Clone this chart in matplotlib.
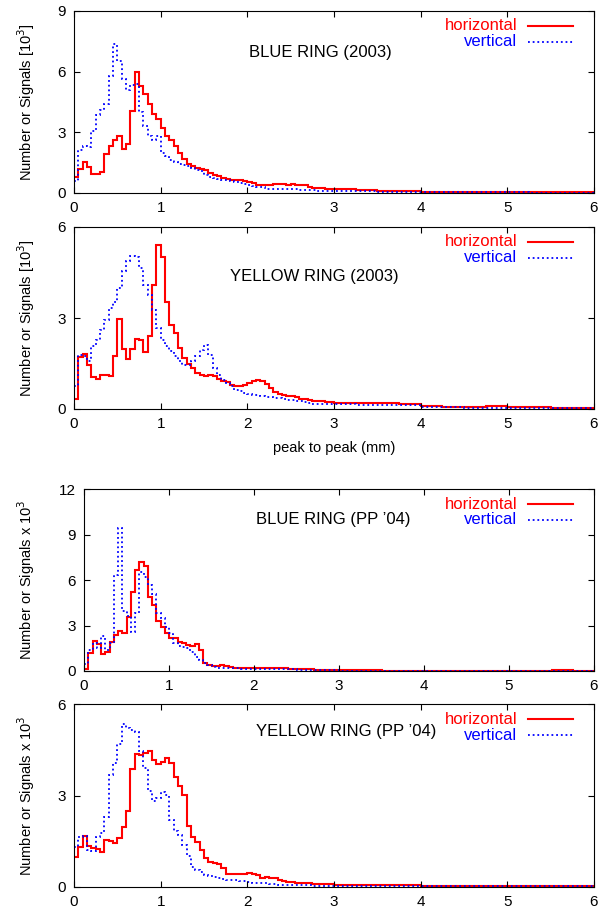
import numpy as np
import matplotlib
matplotlib.use("Agg")
import matplotlib.pyplot as plt

plt.rcParams['font.family'] = ['Liberation Sans', 'DejaVu Sans']

# bin edges: 0.05 mm bins up to 3 mm, coarser bins in the flat tail
edges = np.concatenate([np.linspace(0, 3, 61)[:-1], np.linspace(3, 6, 13)])

# values in units of 10^3 signals
blue03_h = [0.79, 1.2, 1.52, 1.28, 0.96, 0.96, 1.05, 1.93, 2.3, 2.64,
            2.82, 2.19, 2.4, 4.04, 5.96, 5.3, 4.88, 4.4, 3.89, 3.67,
            3.2, 2.83, 2.6, 2.3, 1.98, 1.68, 1.45, 1.32, 1.24, 1.2,
            1.12, 0.99, 0.9, 0.82, 0.74, 0.69, 0.66, 0.64, 0.62, 0.6,
            0.54, 0.49, 0.42, 0.4, 0.4, 0.42, 0.43, 0.43, 0.43, 0.42,
            0.43, 0.42, 0.41, 0.4, 0.28, 0.27, 0.24, 0.23, 0.22, 0.2,
            0.18, 0.13, 0.09, 0.08, 0.07, 0.07, 0.05, 0.05, 0.04, 0.03, 0.03, 0.03]
blue03_v = [0.58, 2.14, 2.3, 2.27, 3.08, 3.87, 4.12, 4.4, 5.8, 7.36,
            6.54, 5.65, 5.1, 5.34, 5.39, 4.0, 3.3, 2.8, 2.64, 2.8,
            1.98, 1.81, 1.65, 1.52, 1.45, 1.4, 1.35, 1.24, 1.15, 1.07,
            0.9, 0.79, 0.74, 0.69, 0.66, 0.63, 0.58, 0.55, 0.49, 0.44,
            0.4, 0.34, 0.31, 0.3, 0.22, 0.2, 0.2, 0.2, 0.19, 0.2,
            0.2, 0.19, 0.16, 0.15, 0.15, 0.14, 0.12, 0.12, 0.11, 0.11,
            0.1, 0.09, 0.06, 0.04, 0.04, 0.03, 0.03, 0.03, 0.03, 0.02, 0.02, 0.02]

yellow03_h = [0.33, 1.71, 1.81, 1.44, 1.04, 1.0, 1.11, 1.13, 1.08, 1.74,
              2.97, 1.99, 1.65, 1.98, 2.31, 2.29, 1.87, 2.42, 4.08, 5.42,
              5.01, 3.53, 2.78, 2.51, 2.01, 1.68, 1.49, 1.35, 1.19, 1.11,
              1.1, 1.13, 1.09, 0.99, 0.93, 0.88, 0.8, 0.75, 0.75, 0.8,
              0.86, 0.91, 0.95, 0.93, 0.83, 0.7, 0.57, 0.5, 0.46, 0.44,
              0.42, 0.38, 0.33, 0.33, 0.3, 0.28, 0.26, 0.25, 0.24, 0.24,
              0.21, 0.19, 0.21, 0.16, 0.11, 0.08, 0.08, 0.1, 0.08, 0.05, 0.03, 0.03]
yellow03_v = [0.77, 1.77, 1.74, 1.57, 2.07, 2.29, 2.62, 2.95, 3.33, 3.53,
              3.99, 4.54, 4.89, 5.03, 5.01, 4.65, 4.1, 3.77, 3.27, 2.67,
              2.29, 2.07, 1.9, 1.74, 1.57, 1.46, 1.46, 1.57, 1.74, 1.96,
              2.12, 1.79, 1.35, 1.13, 0.97, 0.86, 0.75, 0.64, 0.58, 0.53,
              0.5, 0.47, 0.45, 0.42, 0.4, 0.38, 0.36, 0.35, 0.33, 0.31,
              0.3, 0.28, 0.26, 0.24, 0.2, 0.18, 0.17, 0.16, 0.16, 0.16,
              0.16, 0.14, 0.13, 0.12, 0.08, 0.07, 0.04, 0.04, 0.03, 0.03, 0.03, 0.03]

blue04_h = [0.13, 1.2, 2.0, 1.78, 1.12, 1.27, 1.93, 2.35, 2.64, 2.48,
            3.54, 5.23, 6.66, 7.2, 6.92, 4.9, 4.35, 3.3, 2.92, 2.53,
            2.15, 2.15, 1.89, 1.82, 1.7, 1.67, 1.76, 1.38, 0.55, 0.4,
            0.33, 0.35, 0.37, 0.33, 0.29, 0.22, 0.2, 0.2, 0.2, 0.19,
            0.18, 0.18, 0.18, 0.18, 0.18, 0.18, 0.17, 0.17, 0.16, 0.15,
            0.15, 0.15, 0.14, 0.12, 0.08, 0.07, 0.07, 0.06, 0.06, 0.05,
            0.04, 0.04, 0.03, 0.03, 0.03, 0.03, 0.03, 0.03, 0.03, 0.03, 0.04, 0.03]
blue04_v = [0.44, 1.38, 1.82, 1.49, 2.33, 1.38, 1.82, 6.33, 9.45, 3.96,
            3.63, 2.59, 3.8, 6.55, 6.22, 5.67, 5.05, 3.8, 3.47, 2.92,
            2.48, 1.82, 1.67, 1.6, 1.49, 1.23, 0.95, 0.73, 0.55, 0.4,
            0.29, 0.22, 0.2, 0.2, 0.19, 0.18, 0.17, 0.16, 0.15, 0.13,
            0.12, 0.12, 0.11, 0.11, 0.11, 0.1, 0.1, 0.1, 0.1, 0.1,
            0.09, 0.09, 0.09, 0.08, 0.06, 0.05, 0.05, 0.04, 0.04, 0.04,
            0.03, 0.03, 0.03, 0.03, 0.03, 0.03, 0.03, 0.03, 0.03, 0.03, 0.03, 0.03]

yellow04_h = [0.99, 1.32, 1.67, 1.34, 1.27, 1.23, 1.16, 1.54, 1.51, 1.45,
              1.62, 1.98, 2.48, 3.88, 4.37, 4.33, 4.38, 4.46, 4.16, 4.02,
              4.1, 4.22, 4.07, 3.61, 3.3, 3.03, 2.0, 1.65, 1.49, 1.21,
              0.94, 0.83, 0.79, 0.77, 0.61, 0.44, 0.41, 0.42, 0.44, 0.44,
              0.46, 0.44, 0.39, 0.31, 0.33, 0.31, 0.28, 0.22, 0.2, 0.18,
              0.16, 0.14, 0.13, 0.13, 0.12, 0.11, 0.1, 0.1, 0.1, 0.09,
              0.08, 0.07, 0.06, 0.05, 0.04, 0.03, 0.02, 0.02, 0.02, 0.02, 0.02, 0.02]
yellow04_v = [1.32, 1.65, 1.67, 1.21, 1.18, 1.65, 1.76, 2.31, 3.66, 4.05,
              4.68, 5.34, 5.2, 5.14, 5.07, 4.46, 3.91, 3.14, 2.81, 2.92,
              3.11, 3.03, 2.2, 1.82, 1.71, 1.38, 1.01, 0.66, 0.55, 0.5,
              0.39, 0.35, 0.33, 0.3, 0.25, 0.22, 0.22, 0.22, 0.21, 0.2,
              0.18, 0.13, 0.13, 0.12, 0.12, 0.11, 0.1, 0.08, 0.08, 0.07,
              0.06, 0.06, 0.05, 0.05, 0.05, 0.04, 0.04, 0.04, 0.03, 0.03,
              0.03, 0.02, 0.02, 0.02, 0.02, 0.02, 0.02, 0.02, 0.02, 0.02, 0.02, 0.02]

titles = ["BLUE RING (2003)", "YELLOW RING (2003)",
          "BLUE RING (PP \u201904)", "YELLOW RING (PP \u201904)"]
ylabels = ["Number or Signals [10$^3$]", "Number or Signals [10$^3$]",
           "Number or Signals x 10$^3$", "Number or Signals x 10$^3$"]
yticks = [[0, 3, 6, 9], [0, 3, 6], [0, 3, 6, 9, 12], [0, 3, 6]]
series = [(blue03_h, blue03_v), (yellow03_h, yellow03_v),
          (blue04_h, blue04_v), (yellow04_h, yellow04_v)]

W, H = 605, 910
# axes boxes in pixels: left, top, right, bottom
boxes = [(74, 11, 594, 193), (74, 227, 594, 409),
         (84, 489, 594, 671), (74, 704, 594, 887)]
title_pos = [(2.84, 0.77), (2.77, 0.73), (2.93, 0.83), (3.14, 0.85)]

fig = plt.figure(figsize=(W / 100, H / 100), dpi=100)

for i in range(4):
    l, t, r, b = boxes[i]
    ax = fig.add_axes([l / W, 1 - b / H, (r - l) / W, (b - t) / H])
    h, v = series[i]
    ax.stairs(h, edges, baseline=None, color='#ff0000', lw=1.5)
    ax.stairs(v, edges, baseline=None, color='#0000ff', lw=1.3,
              linestyle=(0, (1, 1.6)))
    ax.set_xlim(0, 6)
    ax.set_ylim(yticks[i][0], yticks[i][-1])
    ax.set_xticks(range(7))
    ax.set_yticks(yticks[i])
    ax.tick_params(direction='in', top=True, right=True, length=4,
                   width=0.8, labelsize=11, pad=6)
    for s in ax.spines.values():
        s.set_linewidth(0.8)
    ax.set_ylabel(ylabels[i], fontsize=10.5)
    ax.yaxis.set_label_coords((37 - l) / (r - l), 0.5)
    ax.text(title_pos[i][0], title_pos[i][1], titles[i],
            transform=ax.get_xaxis_transform(), ha='center', va='center',
            fontsize=12)

    # gnuplot style key: right-aligned text followed by a sample line
    wpx = r - l
    hpx = b - t
    xt = (517 - l) / wpx
    x0, x1 = (528 - l) / wpx, (573 - l) / wpx
    yh = 1 - 15 / hpx
    yv = 1 - 31 / hpx
    ax.text(xt, yh, "horizontal", color='#ff0000', transform=ax.transAxes,
            ha='right', va='center', fontsize=12)
    ax.text(xt, yv, "vertical", color='#0000ff', transform=ax.transAxes,
            ha='right', va='center', fontsize=12)
    ax.plot([x0, x1], [yh, yh], color='#ff0000', lw=1.5,
            transform=ax.transAxes)
    ax.plot([x0, x1], [yv, yv], color='#0000ff', lw=1.3,
            linestyle=(0, (1, 1.6)), transform=ax.transAxes)

    if i == 1:
        ax.set_xlabel("peak to peak (mm)", fontsize=10.5, labelpad=7)

fig.savefig("out.png", dpi=100)
